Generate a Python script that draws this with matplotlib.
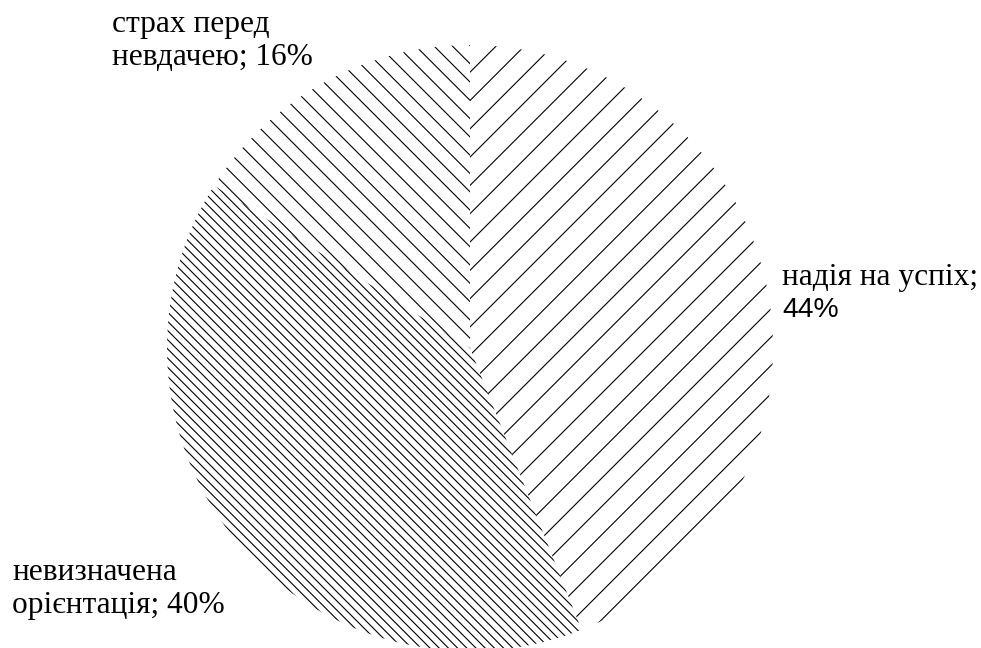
import numpy as np
import matplotlib
matplotlib.use("Agg")
import matplotlib.pyplot as plt
from matplotlib.collections import LineCollection

# Data
categories = ["надія на успіх", "невизначена орієнтація", "страх перед невдачею"]
values = [44, 40, 16]

W, H = 981, 648
fig = plt.figure(figsize=(W / 100, H / 100), dpi=100)
ax = fig.add_axes([0, 0, 1, 1])

cx, cy, R = 470, H - 348, 303
wedges, _ = ax.pie(values, startangle=90, counterclock=False, center=(cx, cy),
                   radius=R, frame=True,
                   wedgeprops=dict(facecolor="white", edgecolor="none", linewidth=0))
ax.set_xlim(0, W)
ax.set_ylim(0, H)
ax.set_aspect("equal")
ax.axis("off")

# hatch styles: (direction, horizontal spacing in px, phase)
hatch_styles = [("/", 28.3, -347.0), ("\\", 9.2, 834.7), ("\\", 18.3, 834.7)]

def hatch_lines(direction, spacing, phase):
    segs = []
    lo, hi = -2000, 3000
    ks = np.arange(np.floor((lo - phase) / spacing), np.ceil((hi - phase) / spacing) + 1)
    for k in ks:
        c = phase + k * spacing
        if direction == "/":
            segs.append([(-100, -100 + c), (W + 100, W + 100 + c)])
        else:
            segs.append([(-100, c + 100), (W + 100, c - W - 100)])
    return segs

for w, (d, s, p) in zip(wedges, hatch_styles):
    lc = LineCollection(hatch_lines(d, s, p), colors="black", linewidths=0.8)
    ax.add_collection(lc)
    lc.set_clip_path(w)

serif = ["Liberation Serif", "DejaVu Serif"]
sans = ["Liberation Sans", "DejaVu Sans"]

def put(x, y_img, s, fam, fs):
    fig.text(x / W, 1 - y_img / H, s, ha="left", va="baseline",
             fontsize=fs, family=fam, color="black")

put(112, 32, "страх перед", serif, 22.6)
put(112, 65, "невдачею; 16%", serif, 22.6)
put(782, 285, "надія на успіх;", serif, 22.6)
put(782, 317, "44%", sans, 20.3)
put(12, 580, "невизначена", serif, 22.6)
put(12, 613, "орієнтація; 40%", serif, 22.6)

fig.savefig("out.png", dpi=100)
